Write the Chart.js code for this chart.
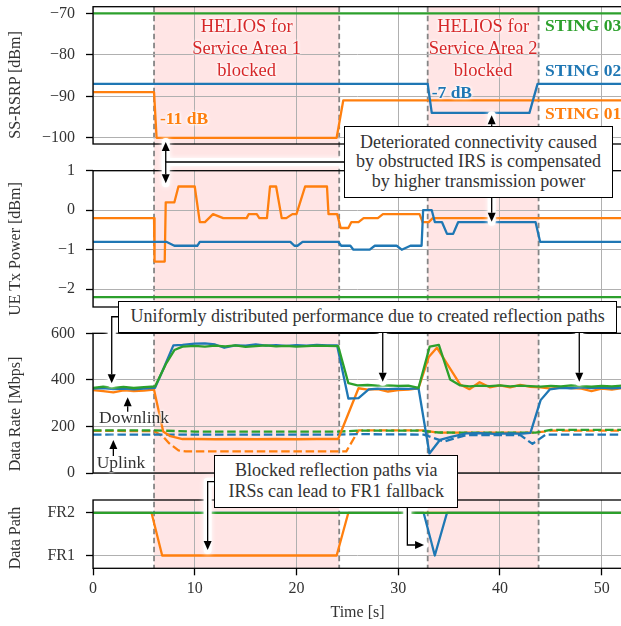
<!DOCTYPE html>
<html lang="en">
<head>
<meta charset="UTF-8" />
<title>HELIOS blockage: RSRP, Tx power, data rate, data path</title>
<script src="https://cdn.jsdelivr.net/npm/chart.js@4"></script>
<style>
  body { margin: 0; background: #fff; }
  #wrap {
    position: relative; width: 621px; height: 626px; overflow: hidden; background: #fff;
    font-family: serif; color: #333;
  }
  #wrap canvas { position: absolute; left: 0; }
  .ann {
    position: absolute; box-sizing: border-box; background: #fff; border: 1.3px solid #000;
    font-size: 18px; text-align: center; white-space: nowrap;
    display: flex; align-items: center; justify-content: center;
  }
  .lbl { position: absolute; white-space: nowrap; text-shadow: 0 0 2px #fff, 0 0 3px #fff, 0 0 4px #fff; }
  .helios { width: 200px; text-align: center; line-height: 22px; font-size: 18.5px; color: #d62728; }
  .bold { font-weight: bold; font-size: 17.5px; line-height: 22px; }
  .small { font-size: 17.5px; line-height: 20px; transform: translate(-50%, -50%); }
  .ytitle {
    position: absolute; width: 200px; height: 20px; line-height: 20px; text-align: center;
    font-size: 16px; transform: rotate(-90deg); white-space: nowrap;
  }
</style>
</head>
<body>
<div id="wrap">
  <canvas id="bg" width="621" height="626" style="top:0;width:621px;height:626px"></canvas>
  <canvas id="c1" width="622" height="706" style="top:-40px;width:622px;height:706px"></canvas>
  <canvas id="c2" width="622" height="706" style="top:-40px;width:622px;height:706px"></canvas>
  <canvas id="c3" width="622" height="706" style="top:-40px;width:622px;height:706px"></canvas>
  <canvas id="c4" width="622" height="706" style="top:-40px;width:622px;height:706px"></canvas>
  <canvas id="fg" width="621" height="626" style="top:0;width:621px;height:626px"></canvas>

  <div class="ytitle" style="left:-85px;top:75px">SS-RSRP [dBm]</div>
  <div class="ytitle" style="left:-85px;top:239px">UE Tx Power [dBm]</div>
  <div class="ytitle" style="left:-85px;top:404px">Data Rate [Mbps]</div>
  <div class="ytitle" style="left:-85px;top:528px">Data Path</div>

  <div class="lbl helios" id="h1" style="top:15px">HELIOS for<br>Service Area 1<br>blocked</div>
  <div class="lbl helios" id="h2" style="top:15px">HELIOS for<br>Service Area 2<br>blocked</div>

  <div class="lbl bold" style="left:545px;top:14px;color:#2ca02c">STING 03</div>
  <div class="lbl bold" style="left:545px;top:59px;color:#1f77b4">STING 02</div>
  <div class="lbl bold" style="left:545px;top:101.7px;color:#ff7f0e">STING 01</div>
  <div class="lbl bold" style="left:160px;top:107px;color:#ff7f0e">-11 dB</div>
  <div class="lbl bold" style="left:431.7px;top:80.7px;color:#1f77b4">-7 dB</div>

  <div class="lbl small" style="left:134px;top:417px">Downlink</div>
  <div class="lbl small" style="left:121px;top:461.7px">Uplink</div>

  <div class="ann" style="left:344px;top:125.5px;width:269px;height:72.5px;line-height:19.5px">
    <div>Deteriorated connectivity caused<br>by obstructed IRS is compensated<br>by higher transmission power</div>
  </div>
  <div class="ann" style="left:118px;top:300.7px;width:499.3px;height:32px">
    <div>Uniformly distributed performance due to created reflection paths</div>
  </div>
  <div class="ann" style="left:214.3px;top:455px;width:244px;height:52.7px;line-height:21px">
    <div>Blocked reflection paths via<br>IRSs can lead to FR1 fallback</div>
  </div>
</div>

<script>
  const OFF = 40;                       // chart canvases start 40px above the page
  const FONT = 'serif';
  const TXT = '#333';
  const GRID = '#b0b0b0';
  const ORANGE = '#ff7f0e', BLUE = '#1f77b4', GREEN = '#2ca02c';

  // time axis
  const timeMin = 0, timeMax = 52;
  const timeTicks = [0, 10, 20, 30, 40, 50];
  const blockStart = [6.0, 32.9];
  const blockEnd = [24.2, 43.8];

  // SS-RSRP [dBm]
  const rsrpTicks = [-100, -90, -80, -70];
  const rsrp01T = [0, 6.0, 6.25, 23.95, 24.6, 52];
  const rsrp01 = [-89, -89, -100, -100, -91, -91];
  const rsrp02T = [0, 32.9, 33.3, 42.9, 43.7, 52];
  const rsrp02 = [-87, -87, -94, -94, -87, -87];
  const rsrp03T = [0, 52];
  const rsrp03 = [-70, -70];

  // UE Tx power [dBm]
  const txTicks = [-2, -1, 0, 1];
  const tx01T = [0, 6.0, 6.05, 7.05, 7.15, 8.0, 8.4, 10.0, 10.5, 11.0, 11.8, 12.8, 15.1, 15.3, 16.1, 16.35,
                 17.1, 17.4, 18.0, 18.55, 19.0, 19.6, 20.0, 20.85, 23.0, 23.15, 24.0, 24.35, 25.1, 25.4,
                 26.1, 26.6, 28.0, 28.5, 32.1, 32.4, 33.0, 33.4, 52];
  const tx01 = [-0.2, -0.2, -1.3, -1.3, 0.2, 0.2, 0.6, 0.6, -0.3, -0.3, -0.1, -0.2, -0.2, -0.1, -0.1, -0.2,
                -0.2, 0.6, 0.6, -0.2, -0.2, -0.1, -0.1, 0.6, 0.6, -0.1, -0.1, -0.45, -0.45, -0.3,
                -0.3, -0.2, -0.2, -0.1, -0.1, -0.3, -0.3, -0.2, -0.2];
  const tx02T = [0, 7.2, 8.0, 10.25, 10.5, 19.4, 19.8, 20.1, 20.6, 24.1, 24.4, 25.3, 25.6, 27.2, 27.7,
                 29.85, 30.35, 31.2, 32.3, 32.45, 33.3, 33.6, 34.3, 34.8, 35.4, 35.9, 43.5, 43.95, 52];
  const tx02 = [-0.8, -0.8, -0.9, -0.9, -0.8, -0.8, -0.9, -0.9, -0.8, -0.8, -0.9, -0.9, -1.0, -1.0, -0.9,
                -0.9, -1.0, -0.9, -0.9, 0.0, 0.0, -0.3, -0.3, -0.6, -0.6, -0.3, -0.3, -0.8, -0.8];
  const tx03T = [0, 52];
  const tx03 = [-2.2, -2.2];

  // Data rate [Mbps]
  const rateTicks = [0, 200, 400, 600];
  const dl03T = [0, 1, 2, 3, 4, 5, 6.1, 7.2, 8.0, 8.8, 10, 11, 12, 13, 14, 15, 16, 17, 18, 19, 20, 21, 22, 23,
                 24.1, 25.1, 26, 27, 28, 29, 30, 31, 32.0, 33.1, 34.0, 35.1, 36.1, 37, 38, 39, 40, 41, 42, 43,
                 44, 45, 46, 47, 48, 49, 50, 51, 52];
  const dl03 = [366, 371, 366, 370, 365, 369, 372, 471, 528, 543, 546, 543, 547, 544, 548, 542, 545, 548, 544,
                546, 543, 545, 547, 546, 545, 386, 376, 378, 375, 376, 374, 375, 366, 543, 550, 402, 376, 372,
                375, 373, 376, 372, 375, 373, 371, 374, 372, 376, 373, 371, 374, 372, 375];
  const dl02T = [0, 1, 2, 3, 4, 5, 6.1, 7.0, 7.9, 8.8, 10, 11, 12, 12.9, 14, 15, 16, 17, 18, 19, 20, 21, 22, 23,
                 24.0, 25.1, 26.1, 27.1, 28, 29, 30, 31, 32.0, 33.07, 34.1, 35.2, 36.7, 38, 39.5, 41, 42.2, 43.0,
                 44.0, 44.9, 46, 47, 48, 49, 50, 51, 52];
  const dl02 = [362, 365, 360, 363, 359, 362, 366, 455, 548, 550, 556, 557, 552, 538, 548, 547, 552, 547, 549,
                546, 549, 547, 550, 548, 548, 320, 322, 359, 362, 360, 362, 361, 364, 84, 142, 155, 170, 171,
                168, 170, 169, 172, 313, 359, 366, 364, 368, 365, 367, 364, 366];
  const dl01T = [0, 1, 2, 3, 4, 5, 6.0, 6.9, 7.6, 8.8, 10, 12, 14, 16, 18, 20, 22, 24.1, 26.1, 27, 28, 29, 30, 31,
                 32.0, 33.0, 33.8, 36.1, 37, 38, 39, 40, 41, 42, 43, 44, 45, 46, 47, 48, 49, 50, 51, 52];
  const dl01 = [356, 352, 346, 355, 352, 354, 358, 178, 158, 146, 146, 145, 146, 145, 146, 145, 146, 146, 364,
                358, 360, 350, 356, 358, 364, 498, 538, 380, 360, 390, 368, 376, 368, 378, 370, 368, 362, 368,
                365, 362, 352, 362, 358, 365];
  const ul03T = [0, 6, 10, 20, 24.2, 26, 32, 34, 40, 43.5, 45, 52];
  const ul03 = [183, 183, 178, 178, 178, 182, 182, 174, 173, 173, 185, 185];
  const ul02T = [0, 24, 26, 32.5, 34.5, 36.7, 42, 43.2, 44.5, 52];
  const ul02 = [165, 165, 167, 165, 135, 163, 163, 125, 165, 165];
  const ul01T = [0, 6.0, 6.9, 7.5, 8.4, 9.1, 24.9, 26.1, 32.5, 34, 43.5, 45, 52];
  const ul01 = [181, 180, 156, 127, 97, 93, 93, 183, 183, 173, 173, 182, 182];

  // Data path (0 = FR1, 1 = FR2)
  const pathTicks = [0, 1];
  const pathLabels = ['FR1', 'FR2'];
  const path01T = [0, 5.75, 6.8, 23.95, 25.1, 52];
  const path01 = [1, 1, 0, 0, 1, 1];
  const path02T = [0, 32.5, 33.6, 34.8, 52];
  const path02 = [1, 1, 0, 1, 1];
  const path03T = [0, 52];
  const path03 = [1, 1];

  const pts = (t, v) => t.map((x, i) => ({ x: x, y: v[i] }));
  const line = (t, v, color, order, dash) => ({
    data: pts(t, v), borderColor: color, borderWidth: 2.3, order: order,
    borderDash: dash ? [8.5, 3.7] : [], pointRadius: 0, tension: 0,
    borderJoinStyle: 'round', fill: false
  });
  const minus = v => String(v).replace('-', '\u2212');

  // axes frame (matplotlib-like spines)
  const frame = {
    id: 'frame',
    afterDraw(chart) {
      const { ctx, chartArea: a } = chart;
      ctx.save();
      ctx.strokeStyle = '#000';
      ctx.lineWidth = 1.3;
      ctx.strokeRect(a.left, a.top, a.right - a.left, a.bottom - a.top);
      ctx.restore();
    }
  };

  function panel(id, datasets, yMin, yMax, yTicks, fmt, top, bottom, last) {
    const tickFont = { family: FONT, size: 16 };
    return new Chart(document.getElementById(id), {
      type: 'line',
      data: { datasets: datasets },
      options: {
        responsive: false,
        animation: false,
        devicePixelRatio: 1,
        layout: { padding: { left: 0, right: 0, top: top + OFF, bottom: last ? OFF : 666 - bottom } },
        plugins: { legend: { display: false }, tooltip: { enabled: false } },
        scales: {
          x: {
            type: 'linear', min: timeMin, max: timeMax,
            afterBuildTicks: s => { s.ticks = timeTicks.map(v => ({ value: v })); },
            afterFit: s => { s.height = last ? 626 - bottom : 0; },
            grid: { color: GRID, lineWidth: 1, drawTicks: last, tickLength: 7, tickColor: '#000', tickWidth: 1.3 },
            border: { display: false },
            ticks: { display: last, color: TXT, font: tickFont, padding: 4, maxRotation: 0 },
            title: { display: last, text: 'Time [s]', color: TXT, font: tickFont, padding: { top: 0, bottom: 4 } }
          },
          y: {
            type: 'linear', min: yMin, max: yMax,
            afterBuildTicks: s => { s.ticks = yTicks.map(v => ({ value: v })); },
            afterFit: s => { s.width = 93; },
            grid: { color: GRID, lineWidth: 1, tickLength: 7, tickColor: '#000', tickWidth: 1.3 },
            border: { display: false },
            ticks: { color: TXT, font: tickFont, padding: 11, callback: fmt }
          }
        }
      },
      plugins: [frame]
    });
  }

  const c1 = panel('c1', [
    line(rsrp03T, rsrp03, GREEN, 0), line(rsrp02T, rsrp02, BLUE, 1), line(rsrp01T, rsrp01, ORANGE, 2)
  ], -101.5, -68.4, rsrpTicks, minus, 6.7, 144, false);

  const c2 = panel('c2', [
    line(tx03T, tx03, GREEN, 0), line(tx02T, tx02, BLUE, 1), line(tx01T, tx01, ORANGE, 2)
  ], -2.45, 1, txTicks, minus, 170.7, 307, false);

  const c3 = panel('c3', [
    line(dl03T, dl03, GREEN, 0), line(dl02T, dl02, BLUE, 1), line(dl01T, dl01, ORANGE, 2),
    line(ul03T, ul03, GREEN, 3, true), line(ul02T, ul02, BLUE, 4, true), line(ul01T, ul01, ORANGE, 5, true)
  ], 0, 600, rateTicks, minus, 333.3, 473, false);

  const c4 = panel('c4', [
    line(path03T, path03, GREEN, 0), line(path02T, path02, BLUE, 1), line(path01T, path01, ORANGE, 2)
  ], -0.3, 1.3, pathTicks, v => pathLabels[v], 500, 568.3, true);

  const panels = [null, c1, c2, c3, c4];
  const xs = c4.scales.x;

  // blocked periods: shaded spans and dashed borders across all panels
  const bg = document.getElementById('bg').getContext('2d');
  const yTop = c1.chartArea.top - OFF, yBot = c4.chartArea.bottom - OFF;
  blockStart.forEach((s, i) => {
    const x0 = xs.getPixelForValue(s), x1 = xs.getPixelForValue(blockEnd[i]);
    bg.fillStyle = 'rgba(255, 0, 0, 0.1)';
    bg.fillRect(x0, yTop, x1 - x0, yBot - yTop);
    bg.strokeStyle = '#858585';
    bg.lineWidth = 1.8;
    bg.setLineDash([5.5, 3.5]);
    [x0, x1].forEach(x => {
      bg.beginPath(); bg.moveTo(x, yTop); bg.lineTo(x, yBot); bg.stroke();
    });
  });

  // centre the HELIOS labels on the blocked spans
  ['h1', 'h2'].forEach((id, i) => {
    const cx = xs.getPixelForValue((blockStart[i] + blockEnd[i]) / 2);
    document.getElementById(id).style.left = (cx - 100) + 'px';
  });

  // annotation arrows, points given as [panel, time, value]
  const arrows = [
    [[2, 25.5, 1.22], [2, 7.15, 1.22], [2, 7.15, 0.68]],
    [[2, 7.15, 1.22], [1, 7.15, -101.0]],
    [[1, 39.19, -97.5], [1, 39.19, -94.55]],
    [[2, 39.19, 0.4], [2, 39.19, -0.29]],
    [[3, 3.0, 671], [3, 1.84, 671], [3, 1.84, 385]],
    [[3, 28.48, 620], [3, 28.48, 392]],
    [[3, 47.8, 620], [3, 47.8, 392]],
    [[4, 12.5, 1.73], [4, 11.27, 1.73], [4, 11.27, 0.13]],
    [[4, 30.9, 1.2], [4, 30.9, 0.246], [4, 32.54, 0.246]],
    [[3, 3.41, 263], [3, 3.41, 325]],
    [[3, 2.0, 73], [3, 2.0, 142]]
  ];
  const fg = document.getElementById('fg').getContext('2d');
  const toPage = ([k, t, v]) => [panels[k].scales.x.getPixelForValue(t), panels[k].scales.y.getPixelForValue(v) - OFF];
  const paths = arrows.map(a => a.map(toPage));

  // white halo first
  fg.save();
  fg.strokeStyle = '#fff';
  fg.lineWidth = 8;
  fg.lineJoin = 'round';
  fg.lineCap = 'round';
  fg.shadowColor = '#fff';
  fg.shadowBlur = 5;
  paths.forEach(p => {
    fg.beginPath();
    fg.moveTo(p[0][0], p[0][1]);
    p.slice(1).forEach(q => fg.lineTo(q[0], q[1]));
    fg.stroke();
  });
  fg.restore();

  // shafts and heads
  paths.forEach(p => {
    const [x1, y1] = p[p.length - 2], [x2, y2] = p[p.length - 1];
    const ang = Math.atan2(y2 - y1, x2 - x1), L = 9, W = 4;
    const bx = x2 - L * Math.cos(ang), by = y2 - L * Math.sin(ang);
    fg.strokeStyle = '#000';
    fg.fillStyle = '#000';
    fg.lineWidth = 1.3;
    fg.beginPath();
    fg.moveTo(p[0][0], p[0][1]);
    p.slice(1, -1).forEach(q => fg.lineTo(q[0], q[1]));
    fg.lineTo(bx, by);
    fg.stroke();
    fg.beginPath();
    fg.moveTo(x2, y2);
    fg.lineTo(bx - W * Math.sin(ang), by + W * Math.cos(ang));
    fg.lineTo(bx + W * Math.sin(ang), by - W * Math.cos(ang));
    fg.closePath();
    fg.fill();
  });
</script>
</body>
</html>
